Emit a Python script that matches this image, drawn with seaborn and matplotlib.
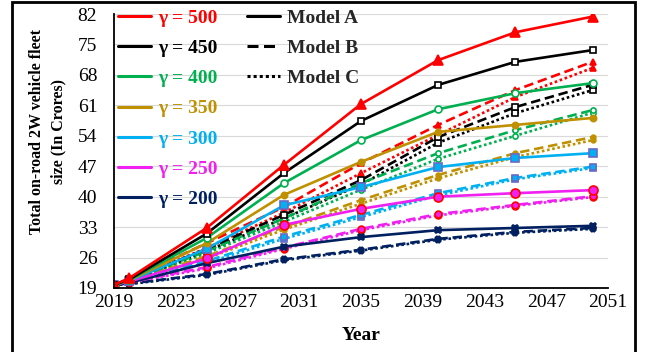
import numpy as np
import pandas as pd
import matplotlib
matplotlib.use("Agg")
import matplotlib.pyplot as plt
from matplotlib.lines import Line2D
from matplotlib.patches import Rectangle
import seaborn as sns

sns.set_theme(style="white")
plt.rcParams["font.family"] = ["Liberation Serif", "DejaVu Serif"]

years = [2019, 2020, 2025, 2030, 2035, 2040, 2045, 2050]
gammas = [500, 450, 400, 350, 300, 250, 200]

# Fleet size (crores) per gamma for each model
model_a = {
    500: [19.7, 21.3, 32.8, 47.3, 61.3, 71.4, 77.8, 81.4],
    450: [19.7, 21.0, 31.5, 45.4, 57.4, 65.7, 71.0, 73.7],
    400: [19.7, 20.9, 30.5, 43.1, 53.0, 60.1, 63.8, 66.1],
    350: [19.7, 20.8, 29.3, 40.4, 48.0, 54.9, 56.5, 58.1],
    300: [19.7, 20.7, 28.0, 38.0, 42.2, 46.8, 48.9, 50.0],
    250: [19.7, 20.5, 25.8, 33.5, 37.2, 40.0, 40.8, 41.5],
    200: [19.7, 20.2, 24.7, 28.5, 30.7, 32.3, 32.8, 33.3],
}
model_b = {
    500: [19.7, 21.0, 29.3, 37.6, 47.7, 56.5, 64.5, 71.0],
    450: [19.7, 20.8, 28.0, 35.8, 43.8, 53.7, 60.6, 65.7],
    400: [19.7, 20.7, 27.5, 35.0, 43.1, 50.0, 55.3, 59.9],
    350: [19.7, 20.6, 26.3, 33.0, 39.2, 45.0, 50.0, 53.7],
    300: [19.7, 20.5, 25.2, 30.8, 35.8, 40.8, 44.3, 46.9],
    250: [19.7, 20.3, 23.8, 28.3, 32.6, 36.0, 38.1, 40.1],
    200: [19.7, 20.0, 22.2, 25.6, 27.8, 30.3, 31.9, 32.8],
}
model_c = {
    500: [19.7, 20.8, 28.2, 36.3, 45.4, 54.2, 62.9, 69.6],
    450: [19.7, 20.7, 27.5, 35.0, 42.8, 52.4, 59.2, 64.5],
    400: [19.7, 20.6, 27.0, 34.2, 41.6, 48.7, 54.0, 59.3],
    350: [19.7, 20.5, 25.8, 32.4, 38.4, 44.2, 49.1, 53.0],
    300: [19.7, 20.4, 24.8, 30.3, 35.3, 40.3, 44.0, 46.6],
    250: [19.7, 20.2, 23.5, 28.0, 32.3, 35.7, 37.9, 39.9],
    200: [19.7, 19.9, 22.0, 25.4, 27.6, 30.1, 31.7, 32.6],
}
models = ["Model A", "Model B", "Model C"]
y_ticks = [19, 26, 33, 40, 47, 54, 61, 68, 75, 82]
x_ticks = [2019, 2023, 2027, 2031, 2035, 2039, 2043, 2047, 2051]

colors = {500: "#FF0000", 450: "#000000", 400: "#00B050", 350: "#BF9000",
          300: "#00B0F0", 250: "#F020F0", 200: "#002060"}
# marker: (shape, face, edge, size)
markers = {500: ("^", "#FF0000", "#FF0000", 6.5),
           450: ("s", "white", "#000000", 5),
           400: ("o", "white", "#00B050", 5),
           350: ("o", "#BF9000", "#BF9000", 4.5),
           300: ("s", "#00B0F0", "#6A6AC8", 6),
           250: ("o", "#F020F0", "#FF0000", 6.5),
           200: ("X", "#002060", "#002060", 5)}
line_styles = {"Model A": "-", "Model B": (0, (3.6, 1.8)), "Model C": (0, (1.0, 1.0))}

frames = []
for name, table in zip(models, [model_a, model_b, model_c]):
    for g in gammas:
        frames.append(pd.DataFrame({"year": years, "fleet": table[g],
                                    "gamma": g, "model": name}))
df = pd.concat(frames, ignore_index=True)

fig = plt.figure(figsize=(6.55, 3.52), dpi=100)
ax = fig.add_axes([114 / 655, 1 - 288 / 352, (608 - 114) / 655, (288 - 14) / 352])

# Draw lower-priority models first so Model A sits on top
for name in ["Model C", "Model B", "Model A"]:
    for g in gammas[::-1]:
        sub = df[(df["model"] == name) & (df["gamma"] == g)]
        m, fc, ec, ms = markers[g]
        if name != "Model A":
            ms = ms * 0.75
        sns.lineplot(data=sub, x="year", y="fleet", ax=ax, color=colors[g],
                     linestyle=line_styles[name], linewidth=1.9,
                     marker=m, markerfacecolor=fc, markeredgecolor=ec,
                     markersize=ms, markeredgewidth=1.2, legend=False,
                     errorbar=None, sort=True)

ax.set_xlim(2019, 2051)
ax.set_ylim(19, 82)
ax.set_xticks(x_ticks)
ax.set_yticks(y_ticks)
ax.tick_params(axis="both", length=0, labelsize=14, colors="#000000")
ax.tick_params(axis="y", pad=12)
ax.tick_params(axis="x", pad=4)
ax.grid(axis="y", color="#d9d9d9", linewidth=0.8)
ax.grid(axis="x", visible=False)
for side in ["top", "right"]:
    ax.spines[side].set_visible(False)
for side in ["left", "bottom"]:
    ax.spines[side].set_color("black")
    ax.spines[side].set_linewidth(1.3)

ax.set_xlabel("Year", fontsize=14, fontweight="bold", color="black")
ax.xaxis.set_label_coords(0.5, -0.142)
ax.set_ylabel("Total on-road 2W vehicle fleet\nsize (In Crores)", fontsize=11.5,
              fontweight="bold", color="black", linespacing=1.4)
ax.yaxis.set_label_coords(-0.097, 0.57)

# Legend for gamma levels, text coloured like the lines
g_handles = [Line2D([], [], color=colors[g], linewidth=2.2) for g in gammas]
g_labels = [f"γ = {g}" for g in gammas]
leg1 = ax.legend(g_handles, g_labels, loc="upper left",
                 bbox_to_anchor=(118 / 655, 1 - 9 / 352), bbox_transform=fig.transFigure,
                 frameon=False, prop={"size": 14, "weight": "bold"},
                 handlelength=1.7, handletextpad=0.35, labelspacing=0.65,
                 borderpad=0, borderaxespad=0)
for t, g in zip(leg1.get_texts(), gammas):
    t.set_color(colors[g])
ax.add_artist(leg1)

m_handles = [Line2D([], [], color="black", linewidth=2.2, linestyle=line_styles[n])
             for n in models]
ax.legend(m_handles, models, loc="upper left",
          bbox_to_anchor=(247 / 655, 1 - 9 / 352), bbox_transform=fig.transFigure,
          frameon=False, prop={"size": 14, "weight": "bold"},
          handlelength=1.7, handletextpad=0.35, labelspacing=0.65,
          borderpad=0, borderaxespad=0)

# Outer border around the figure
fig.patches.append(Rectangle((12 / 655, -0.05), (635 - 12) / 655, 1.05 - 2 / 352,
                             transform=fig.transFigure, fill=False,
                             edgecolor="black", linewidth=2.0, clip_on=False))

fig.savefig("out.png", dpi=100, facecolor="white")
